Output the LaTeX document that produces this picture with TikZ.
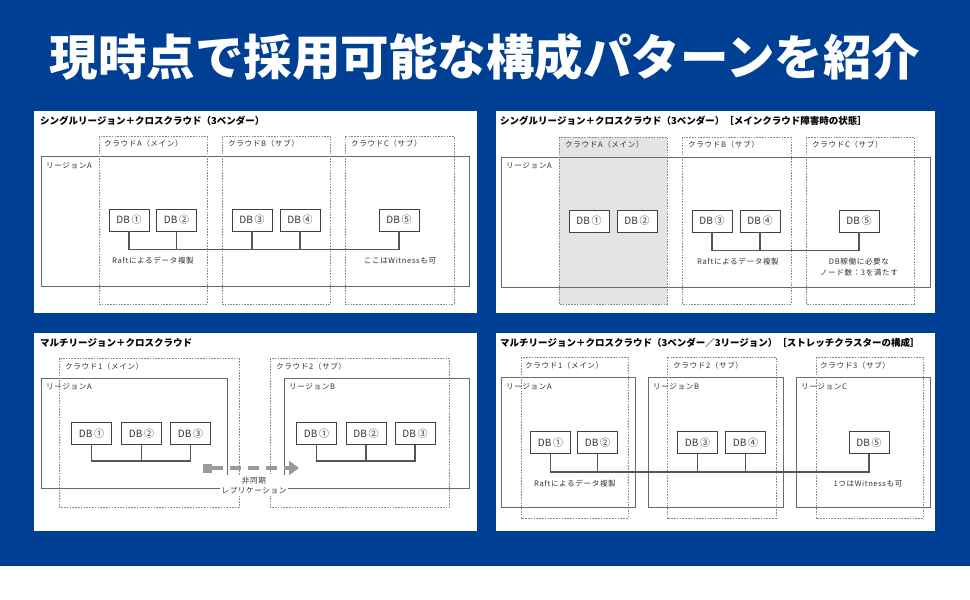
\documentclass[tikz,border=0pt]{standalone}
\usepackage{fontspec}
\setmainfont{Noto Sans CJK JP}
\usetikzlibrary{arrows.meta}
\definecolor{bgblue}{HTML}{004094}
\definecolor{linegray}{HTML}{6A6A6A}
\definecolor{dashgray}{HTML}{8A8A8A}
\definecolor{dbline}{HTML}{404040}
\definecolor{linkgray}{HTML}{555555}
\definecolor{textgray}{HTML}{333333}
\definecolor{failgray}{HTML}{E4E4E6}
\definecolor{arrowgray}{HTML}{9A9A9A}
\begin{document}
\begin{tikzpicture}[x=1pt,y=-1pt,
  panel/.style={fill=white,draw=none},
  region/.style={draw=linegray,line width=0.8pt},
  cloudbox/.style={draw=dashgray,line width=0.7pt,dash pattern=on 1.6pt off 1.2pt},
  dbbox/.style={draw=dbline,fill=white,line width=0.9pt,minimum width=40pt,minimum height=22pt,inner sep=0pt,font=\fontsize{10}{12}\selectfont,text=textgray},
  link/.style={draw=linkgray,line width=1.3pt},
  small/.style={font=\fontsize{7.6}{9}\selectfont\addfontfeature{LetterSpace=8},text=textgray,inner sep=0pt},
  smallw/.style={small,anchor=west},
  ptitle/.style={font=\bfseries\fontsize{9.5}{11}\selectfont,text=black,anchor=west,inner sep=0pt}]
\useasboundingbox (0,0) rectangle (970,600);
\fill[bgblue] (0,0) rectangle (970,566);
\node[font=\bfseries\fontsize{48.5}{52}\selectfont,text=white] (maintitle) at (485,57) {現時点で採用可能な構成パターンを紹介};

% ---------- Panel 1 ----------
\fill[panel] (34,111) rectangle (477,313);
\node[ptitle] (t1) at (40,121) {シングルリージョン＋クロスクラウド（3ベンダー）};
\draw[region] (41,156) rectangle (469,286);
\draw[cloudbox] (99,136) rectangle (207,304);
\draw[cloudbox] (222,136) rectangle (330,304);
\draw[cloudbox] (345,136) rectangle (454,304);
\node[smallw] (c1a) at (104,144) {クラウドA（メイン）};
\node[smallw] (c1b) at (228,144) {クラウドB（サブ）};
\node[smallw] (c1c) at (351,144) {クラウドC（サブ）};
\node[smallw] (r1a) at (46,166) {リージョンA};
\node[dbbox] (p1a) at (129,220) {DB\,①};
\node[dbbox] (p1b) at (176.5,220) {DB\,②};
\node[dbbox] (p1c) at (252,220) {DB\,③};
\node[dbbox] (p1d) at (300,220) {DB\,④};
\node[dbbox] (p1e) at (399,220) {DB\,⑤};
\draw[link] (p1a.south) -- ++(0,18) -| (p1e.south);
\draw[link] (p1b.south) -- ++(0,18);
\draw[link] (p1c.south) -- ++(0,18);
\draw[link] (p1d.south) -- ++(0,18);
\node[small] (n1a) at (153,261) {Raftによるデータ複製};
\node[small] (n1b) at (400,261) {ここはWitnessも可};

% ---------- Panel 2 ----------
\fill[panel] (496,111) rectangle (935,313);
\node[ptitle] (t2) at (500,121) {シングルリージョン＋クロスクラウド（3ベンダー）［メインクラウド障害時の状態］};
\fill[failgray] (559,137) rectangle (667,304);
\draw[region] (501,157) rectangle (930,287);
\draw[cloudbox] (559,137) rectangle (667,304);
\draw[cloudbox] (682,137) rectangle (791,304);
\draw[cloudbox] (806,137) rectangle (914,304);
\node[smallw] (c2a) at (565,145) {クラウドA（メイン）};
\node[smallw] (c2b) at (688,145) {クラウドB（サブ）};
\node[smallw] (c2c) at (812,145) {クラウドC（サブ）};
\node[smallw] (r2a) at (506,166) {リージョンA};
\node[dbbox] (p2a) at (589,221) {DB\,①};
\node[dbbox] (p2b) at (637,221) {DB\,②};
\node[dbbox] (p2c) at (712,221) {DB\,③};
\node[dbbox] (p2d) at (760,221) {DB\,④};
\node[dbbox] (p2e) at (859,221) {DB\,⑤};
\draw[link] (p2c.south) -- ++(0,18) -| (p2e.south);
\draw[link] (p2d.south) -- ++(0,18);
\node[small] (n2a) at (738,262) {Raftによるデータ複製};
\node[small,align=center] (n2b) at (859,267) {DB稼働に必要な\\[1.5pt]ノード数：3を満たす};

% ---------- Panel 3 ----------
\fill[panel] (34,333) rectangle (477,531);
\node[ptitle] (t3) at (40,343) {マルチリージョン＋クロスクラウド};
\draw[region] (41,378) rectangle (227,488);
\draw[region] (284,378) rectangle (469,488);
\draw[cloudbox] (59,358) rectangle (239,507);
\draw[cloudbox] (270,358) rectangle (449,507);
\node[smallw] (c3a) at (65,367) {クラウド1（メイン）};
\node[smallw] (c3b) at (276,367) {クラウド2（サブ）};
\node[smallw] (r3a) at (46,387) {リージョンA};
\node[smallw] (r3b) at (289,387) {リージョンB};
\node[dbbox] (p3a) at (91.5,433.5) {DB\,①};
\node[dbbox] (p3b) at (141.5,433.5) {DB\,②};
\node[dbbox] (p3c) at (190.5,433.5) {DB\,③};
\node[dbbox] (p3d) at (316.5,433.5) {DB\,①};
\node[dbbox] (p3e) at (366,433.5) {DB\,②};
\node[dbbox] (p3f) at (415,433.5) {DB\,③};
\draw[link] (p3a.south) -- ++(0,16) -| (p3c.south);
\draw[link] (p3b.south) -- ++(0,16);
\draw[link] (p3d.south) -- ++(0,16) -| (p3f.south);
\draw[link] (p3e.south) -- ++(0,16);
\node[small,fill=white,inner sep=1.5pt,align=center] (async) at (254,485.5) {非同期\\[1.5pt]レプリケーション};
\node[fill=arrowgray,minimum size=9pt,inner sep=0pt] (asrc) at (207.5,468) {};
\coordinate (adst) at (299,468);
\draw[draw=arrowgray,line width=3.6pt,dash pattern=on 11pt off 7pt,-{Triangle[length=10pt,width=14pt]}] (asrc.east) -- (adst);

% ---------- Panel 4 ----------
\fill[panel] (496,333) rectangle (935,531);
\node[ptitle] (t4) at (500,343) {マルチリージョン＋クロスクラウド（3ベンダー／3リージョン）［ストレッチクラスターの構成］};
\draw[region] (501,377) rectangle (635,507);
\draw[region] (648,377) rectangle (783,507);
\draw[region] (796,377) rectangle (930,507);
\draw[cloudbox] (521,357) rectangle (628,518);
\draw[cloudbox] (667,357) rectangle (776,518);
\draw[cloudbox] (816,357) rectangle (923,518);
\node[smallw] (c4a) at (525,366) {クラウド1（メイン）};
\node[smallw] (c4b) at (673,366) {クラウド2（サブ）};
\node[smallw] (c4c) at (820,366) {クラウド3（サブ）};
\node[smallw] (r4a) at (506,387) {リージョンA};
\node[smallw] (r4b) at (653,387) {リージョンB};
\node[smallw] (r4c) at (801,387) {リージョンC};
\node[dbbox] (p4a) at (550.5,442.5) {DB\,①};
\node[dbbox] (p4b) at (597.5,442.5) {DB\,②};
\node[dbbox] (p4c) at (697.5,442.5) {DB\,③};
\node[dbbox] (p4d) at (745.5,442.5) {DB\,④};
\node[dbbox] (p4e) at (869,442.5) {DB\,⑤};
\draw[link] (p4a.south) -- ++(0,18) -| (p4e.south);
\draw[link] (p4b.south) -- ++(0,18);
\draw[link] (p4c.south) -- ++(0,18);
\draw[link] (p4d.south) -- ++(0,18);
\node[small] (n4a) at (575,484) {Raftによるデータ複製};
\node[small] (n4b) at (868,484) {1つはWitnessも可};
\end{tikzpicture}
\end{document}
